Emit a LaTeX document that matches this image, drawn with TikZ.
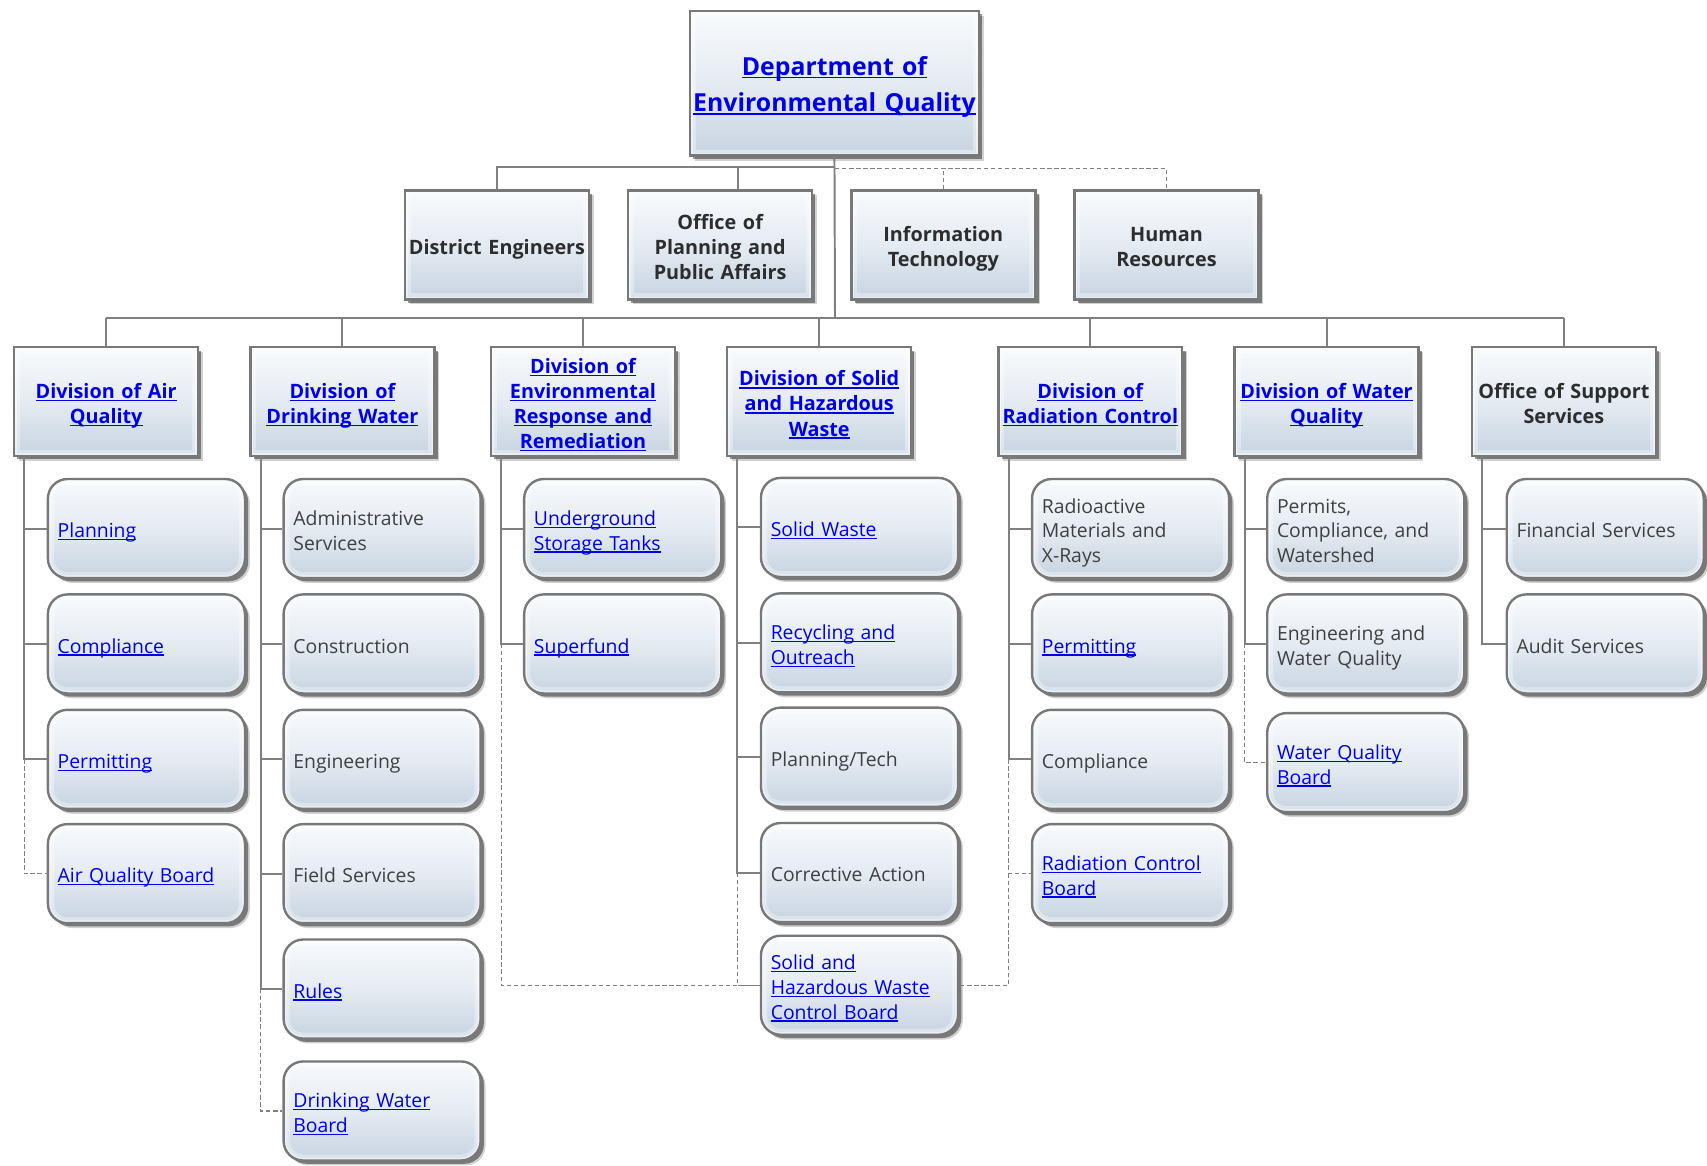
\documentclass[tikz,border=0pt]{standalone}
\usepackage{fontspec}
\setmainfont{Open Sans}
\usetikzlibrary{shadows}
\definecolor{lnk}{RGB}{0,0,230}
\definecolor{txt}{RGB}{64,64,64}
\definecolor{ttl}{RGB}{45,45,45}
\definecolor{bord}{RGB}{120,120,120}
\definecolor{ftop}{RGB}{248,250,252}
\definecolor{fmid}{RGB}{229,235,242}
\definecolor{fbot}{RGB}{198,212,225}
\definecolor{conncol}{RGB}{128,128,128}
\newcommand\lk[1]{\leavevmode{\color{lnk}\setbox0\hbox{#1}\rlap{\rule[-0.13em]{\wd0}{0.07em}}\box0}}
\begin{document}
\begin{tikzpicture}[x=1pt,y=-1pt,
  glow/.style={path picture={
    \draw[white, opacity=0.35, line width=11pt, rounded corners=#1]
      (path picture bounding box.south west) rectangle (path picture bounding box.north east);
    \draw[white, opacity=0.45, line width=5pt, rounded corners=#1]
      (path picture bounding box.south west) rectangle (path picture bounding box.north east);}},
  base/.style={draw=bord, line width=2.2pt, top color=ftop, bottom color=fbot, middle color=fmid,
    drop shadow={shadow xshift=4.5pt, shadow yshift=-4.5pt, fill=black, opacity=0.18},
    drop shadow={shadow xshift=3pt, shadow yshift=-3pt, fill=black, opacity=0.42},
    inner sep=0pt, align=center,
    execute at end node={\rule[-5pt]{0pt}{0pt}}},
  topbox/.style={base, glow=0pt, minimum width=265pt, minimum height=133pt, text width=265pt,
    font=\bfseries\fontsize{22.8}{33.5}\selectfont,
    execute at begin node={\rule{0pt}{24pt}}},
  lvlbox/.style={base, glow=0pt, minimum width=169pt, minimum height=100pt, text width=169pt,
    font=\bfseries\fontsize{18.2}{23}\selectfont, text=ttl,
    execute at begin node={\rule{0pt}{22pt}}},
  child/.style={base, glow=18pt, rounded corners=18pt, minimum width=181pt, minimum height=91pt,
    text width=163pt, align=left, font=\fontsize{17.8}{22.7}\selectfont, text=txt,
    execute at begin node={\rule{0pt}{22pt}}},
  conn/.style={draw=conncol, line width=1.8pt},
  dconn/.style={draw=conncol, line width=1.2pt, dash pattern=on 4pt off 2.5pt}
]
\useasboundingbox (0,0) rectangle (1568,1071);

% ---------- top
\node[topbox] (dep) at (766.5,76.5) {\lk{Department of}\\\lk{Environmental Quality}};

% ---------- level 2
\node[lvlbox] (de)   at (456.5,225) {District Engineers};
\node[lvlbox] (oppa) at (661.5,225) {Office of\\Planning and\\Public Affairs};
\node[lvlbox] (it)   at (866.5,225) {Information\\Technology};
\node[lvlbox] (hr)   at (1071.5,225) {Human\\Resources};

% ---------- divisions
\node[lvlbox] (air) at (97.5,369)   {\lk{Division of Air}\\\lk{Quality}};
\node[lvlbox] (dw)  at (314.5,369)  {\lk{Division of}\\\lk{Drinking Water}};
\node[lvlbox] (env) at (535.5,369)  {\lk{Division of}\\\lk{Environmental}\\\lk{Response and}\\\lk{Remediation}};
\node[lvlbox] (sol) at (752.5,369)  {\lk{Division of Solid}\\\lk{and Hazardous}\\\lk{Waste}};
\node[lvlbox] (rad) at (1001.5,369) {\lk{Division of}\\\lk{Radiation Control}};
\node[lvlbox] (wat) at (1218.5,369) {\lk{Division of Water}\\\lk{Quality}};
\node[lvlbox] (sup) at (1436.5,369) {Office of Support\\Services};

% ---------- spines
\coordinate (sAir) at ([xshift=10.5pt]air.south west);
\coordinate (sDw)  at ([xshift=10.5pt]dw.south west);
\coordinate (sEnv) at ([xshift=10.5pt]env.south west);
\coordinate (sSol) at ([xshift=10.5pt]sol.south west);
\coordinate (sRad) at ([xshift=10.5pt]rad.south west);
\coordinate (sWat) at ([xshift=10.5pt]wat.south west);
\coordinate (sSup) at ([xshift=10.5pt]sup.south west);
\coordinate (bar1) at (767,153);
\coordinate (bar1d) at (767,155);
\coordinate (bar2) at (767,292);

% ---------- children: Air
\node[child] (a1) at (134.5,485.5) {\lk{Planning}};
\node[child] (a2) at (134.5,591.5) {\lk{Compliance}};
\node[child] (a3) at (134.5,697.5) {\lk{Permitting}};
\node[child] (a4) at (134.5,802.5) {\lk{Air Quality Board}};
% Drinking water
\node[child] (d1) at (351,485.5) {Administrative\\Services};
\node[child] (d2) at (351,591.5) {Construction};
\node[child] (d3) at (351,697.5) {Engineering};
\node[child] (d4) at (351,802.5) {Field Services};
\node[child] (d5) at (351,908.5) {\lk{Rules}};
\node[child] (d6) at (351,1020.5) {\lk{Drinking Water}\\\lk{Board}};
% Environmental response
\node[child] (e1) at (572,485.5) {\lk{Underground}\\\lk{Storage Tanks}};
\node[child] (e2) at (572,591.5) {\lk{Superfund}};
% Solid
\node[child] (s1) at (789.5,484.5) {\lk{Solid Waste}};
\node[child] (s2) at (789.5,590.5) {\lk{Recycling and}\\\lk{Outreach}};
\node[child] (s3) at (789.5,695.5) {Planning/Tech};
\node[child] (s4) at (789.5,801.5) {Corrective Action};
\node[child] (s5) at (789.5,905) {\lk{Solid and}\\\lk{Hazardous Waste}\\\lk{Control Board}};
% Radiation
\node[child] (r1) at (1038.5,485.5) {Radioactive\\Materials and\\X-Rays};
\node[child] (r2) at (1038.5,591.5) {\lk{Permitting}};
\node[child] (r3) at (1038.5,697.5) {Compliance};
\node[child] (r4) at (1038.5,802.5) {\lk{Radiation Control}\\\lk{Board}};
% Water
\node[child] (w1) at (1254.5,485.5) {Permits,\\Compliance, and\\Watershed};
\node[child] (w2) at (1254.5,591.5) {Engineering and\\Water Quality};
\node[child] (w3) at (1254.5,700.5) {\lk{Water Quality}\\\lk{Board}};
% Support
\node[child] (p1) at (1474.5,485.5) {Financial Services};
\node[child] (p2) at (1474.5,591.5) {Audit Services};

% ---------- connectors
\draw[conn] (dep.south) -- (bar2);
\draw[conn] (de.north) |- (bar1);
\draw[conn] ([xshift=16pt]oppa.north) -- ([xshift=16pt]oppa.north |- bar1);
\draw[dconn] (bar1d) -| (hr.north);
\draw[dconn] (it.north) -- (it.north |- bar1d);

\draw[conn] (air.north |- bar2) -- (sup.north |- bar2);
\foreach \n in {air,dw,env,sol,rad,wat,sup}
  \draw[conn] (\n.north) -- (\n.north |- bar2);

% Air
\draw[conn] (sAir) |- (a3.west);
\draw[conn] (sAir |- a1.west) -- (a1.west);
\draw[conn] (sAir |- a2.west) -- (a2.west);
\draw[dconn] (sAir |- a3.west) |- (a4.west);
% Drinking
\draw[conn] (sDw) |- (d5.west);
\foreach \c in {d1,d2,d3,d4} \draw[conn] (sDw |- \c.west) -- (\c.west);
\draw[dconn] (sDw |- d5.west) |- (d6.west);
% Env
\draw[conn] (sEnv) |- (e2.west);
\draw[conn] (sEnv |- e1.west) -- (e1.west);
\draw[dconn] (sEnv |- e2.west) |- (s5.west);
% Solid
\draw[conn] (sSol) |- (s4.west);
\foreach \c in {s1,s2,s3} \draw[conn] (sSol |- \c.west) -- (\c.west);
\draw[dconn] (sSol |- s4.west) |- (s5.west);
% Radiation
\draw[conn] (sRad) |- (r3.west);
\foreach \c in {r1,r2} \draw[conn] (sRad |- \c.west) -- (\c.west);
\draw[dconn] (sRad |- r3.west) |- (r4.west);
\draw[dconn] (sRad |- r4.west) |- (s5.east);
% Water
\draw[conn] (sWat) |- (w2.west);
\draw[conn] (sWat |- w1.west) -- (w1.west);
\draw[dconn] (sWat |- w2.west) |- (w3.west);
% Support
\draw[conn] (sSup) |- (p2.west);
\draw[conn] (sSup |- p1.west) -- (p1.west);
\end{tikzpicture}
\end{document}
